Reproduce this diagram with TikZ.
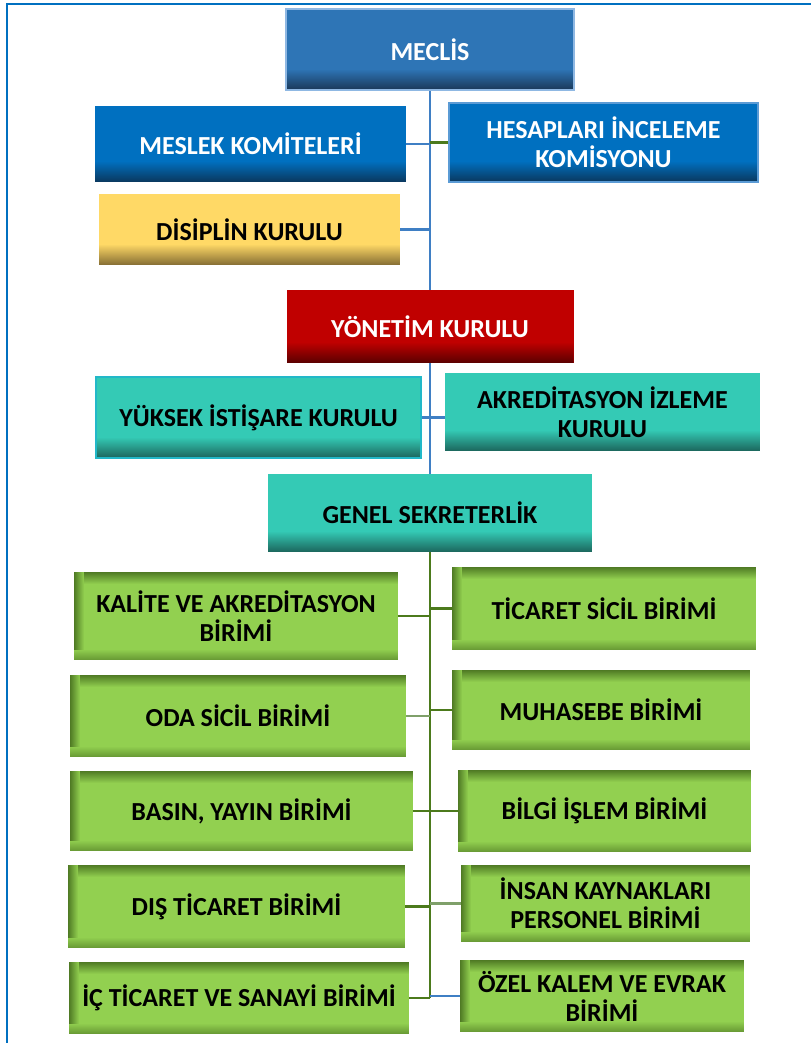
\documentclass[tikz,border=0pt]{standalone}
\usepackage{fontspec}
\setmainfont{Carlito}
\definecolor{frameblue}{HTML}{0070C0}
\definecolor{meclisfill}{HTML}{2E75B6}
\definecolor{meclisdark}{HTML}{1B3A5C}
\definecolor{meclisborder}{HTML}{8FB8E3}
\definecolor{bluefill}{HTML}{0070C0}
\definecolor{bluedark}{HTML}{0A3A62}
\definecolor{blueborder}{HTML}{5B9BD5}
\definecolor{yellowfill}{HTML}{FFD966}
\definecolor{yellowdark}{HTML}{8A7236}
\definecolor{redfill}{HTML}{C00000}
\definecolor{reddark}{HTML}{5E0000}
\definecolor{tealfill}{HTML}{34CAB5}
\definecolor{tealdark}{HTML}{1D6A60}
\definecolor{tealborder}{HTML}{22B8C8}
\definecolor{greenfill}{HTML}{92D050}
\definecolor{greendark}{HTML}{4F7A24}
\definecolor{blueline}{HTML}{3F7FC4}
\definecolor{greenline}{HTML}{4C7A1C}
\definecolor{palegreenline}{HTML}{7FA06A}
\begin{document}
\begin{tikzpicture}[x=1pt,y=1pt,
  box/.style n args={3}{rectangle, inner sep=0pt, fill=#1, text=#3, align=center,
    font=\fontsize{26}{29}\selectfont\bfseries,
    path picture={
      \foreach \k in {0,...,19}{
        \pgfmathsetmacro\p{100-\k*5}
        \fill[#2!\p!#1] ([yshift={\k*1pt}]path picture bounding box.south west)
          rectangle ([yshift={(\k+1.3)*1pt}]path picture bounding box.south east);}}},
  gbox/.style={rectangle, inner sep=0pt, fill=greenfill, text=black, align=center,
    font=\fontsize{26}{29}\selectfont\bfseries,
    path picture={
      \foreach \k in {0,...,11}{
        \pgfmathsetmacro\p{100-\k*100/12}
        \fill[greendark!\p!greenfill] ([yshift={-\k*1pt}]path picture bounding box.north west)
          rectangle ([yshift={-(\k+1.3)*1pt}]path picture bounding box.north east);}
      \foreach \k in {0,...,9}{
        \pgfmathsetmacro\p{100-\k*10}
        \fill[greendark!\p!greenfill] ([xshift={\k*1pt}]path picture bounding box.north west)
          rectangle ([xshift={(\k+1.3)*1pt}]path picture bounding box.south west);}
      \foreach \k in {0,...,9}{
        \pgfmathsetmacro\p{60-\k*6}
        \fill[greendark!\p!greenfill] ([yshift={\k*1pt}]path picture bounding box.south west)
          rectangle ([yshift={(\k+1.3)*1pt}]path picture bounding box.south east);}}},
  bconn/.style={draw=blueline, line width=2.6pt},
  gconn/.style={draw=greenline, line width=2.6pt},
  pconn/.style={draw=palegreenline, line width=2.6pt},
]
\useasboundingbox (0,-1043) rectangle (811,0);
\draw[frameblue, line width=2pt] (7,-1043) -- (7,-4) -- (811,-4);

% top part
\node[box={meclisfill}{meclisdark}{white}, draw=meclisborder, line width=2pt,
  minimum width=288pt, minimum height=81pt] (meclis) at (430,-49.5) {MECLİS};
\node[box={bluefill}{bluedark}{white}, minimum width=311pt, minimum height=76pt]
  (meslek) at (250.5,-144) {MESLEK KOMİTELERİ};
\node[box={bluefill}{bluedark}{white}, draw=blueborder, line width=1.5pt,
  minimum width=309pt, minimum height=79pt] (hesap) at (603.5,-142.5) {HESAPLARI İNCELEME\\KOMİSYONU};
\node[box={yellowfill}{yellowdark}{black}, minimum width=301pt, minimum height=71pt]
  (disiplin) at (249.5,-229.5) {DİSİPLİN KURULU};
\node[box={redfill}{reddark}{white}, minimum width=287pt, minimum height=73pt]
  (yonetim) at (430,-326.5) {YÖNETİM KURULU};
\node[box={tealfill}{tealdark}{black}, draw=tealborder, line width=1.5pt,
  minimum width=325pt, minimum height=81pt] (yuksek) at (258.5,-417.5) {YÜKSEK İSTİŞARE KURULU};
\node[box={tealfill}{tealdark}{black}, minimum width=315pt, minimum height=78pt]
  (akred) at (602.5,-412) {AKREDİTASYON İZLEME\\KURULU};
\node[box={tealfill}{tealdark}{black}, minimum width=324pt, minimum height=78pt]
  (genel) at (430,-513) {GENEL SEKRETERLİK};

% units
\node[gbox, minimum width=324pt, minimum height=88pt] (kalite) at (236,-616) {KALİTE VE AKREDİTASYON\\BİRİMİ};
\node[gbox, minimum width=336pt, minimum height=82pt] (oda) at (238,-716) {ODA SİCİL BİRİMİ};
\node[gbox, minimum width=343pt, minimum height=80pt] (basin) at (241.5,-811) {BASIN, YAYIN BİRİMİ};
\node[gbox, minimum width=337pt, minimum height=83pt] (dis) at (236.5,-906.5) {DIŞ TİCARET BİRİMİ};
\node[gbox, minimum width=340pt, minimum height=72pt] (ic) at (239,-998) {İÇ TİCARET VE SANAYİ BİRİMİ};
\node[gbox, minimum width=304pt, minimum height=83pt] (ticaret) at (604,-608.5) {TİCARET SİCİL BİRİMİ};
\node[gbox, minimum width=298pt, minimum height=80pt] (muhasebe) at (601,-710) {MUHASEBE BİRİMİ};
\node[gbox, minimum width=293pt, minimum height=82pt] (bilgi) at (604.5,-811) {BİLGİ İŞLEM BİRİMİ};
\node[gbox, minimum width=289pt, minimum height=77pt] (insan) at (605.5,-903.5) {İNSAN KAYNAKLARI\\PERSONEL BİRİMİ};
\node[gbox, minimum width=284pt, minimum height=72pt] (ozel) at (602,-996) {ÖZEL KALEM VE EVRAK\\BİRİMİ};

% connectors: blue part
\draw[bconn] (meclis.south) -- (yonetim.north);
\draw[bconn] (meslek.east) -- (meslek.east -| meclis.south);
\draw[gconn] (hesap.west) -- (hesap.west -| meclis.south);
\draw[bconn] (disiplin.east) -- (disiplin.east -| meclis.south);
\draw[bconn] (yonetim.south) -- (genel.north);
\draw[bconn] (yuksek.east) -- (yuksek.east -| yonetim.south);
\draw[bconn] (akred.west |- yuksek.east) -- (yuksek.east -| yonetim.south);

% connectors: green part
\coordinate (gend) at (genel.south |- ic.east);
\draw[gconn] (genel.south) -- (gend);
\draw[gconn] (kalite.east) -- (kalite.east -| genel.south);
\draw[gconn] (ticaret.west) -- (ticaret.west -| genel.south);
\draw[pconn] (oda.east) -- (oda.east -| genel.south);
\draw[gconn] (muhasebe.west) -- (muhasebe.west -| genel.south);
\draw[gconn] (basin.east) -- (basin.east -| genel.south);
\draw[gconn] (bilgi.west) -- (bilgi.west -| genel.south);
\draw[gconn] (dis.east) -- (dis.east -| genel.south);
\draw[pconn] (insan.west) -- (insan.west -| genel.south);
\draw[gconn] (ic.east) -- (gend);
\draw[bconn] (ozel.west) -- (ozel.west -| genel.south);
\end{tikzpicture}
\end{document}
